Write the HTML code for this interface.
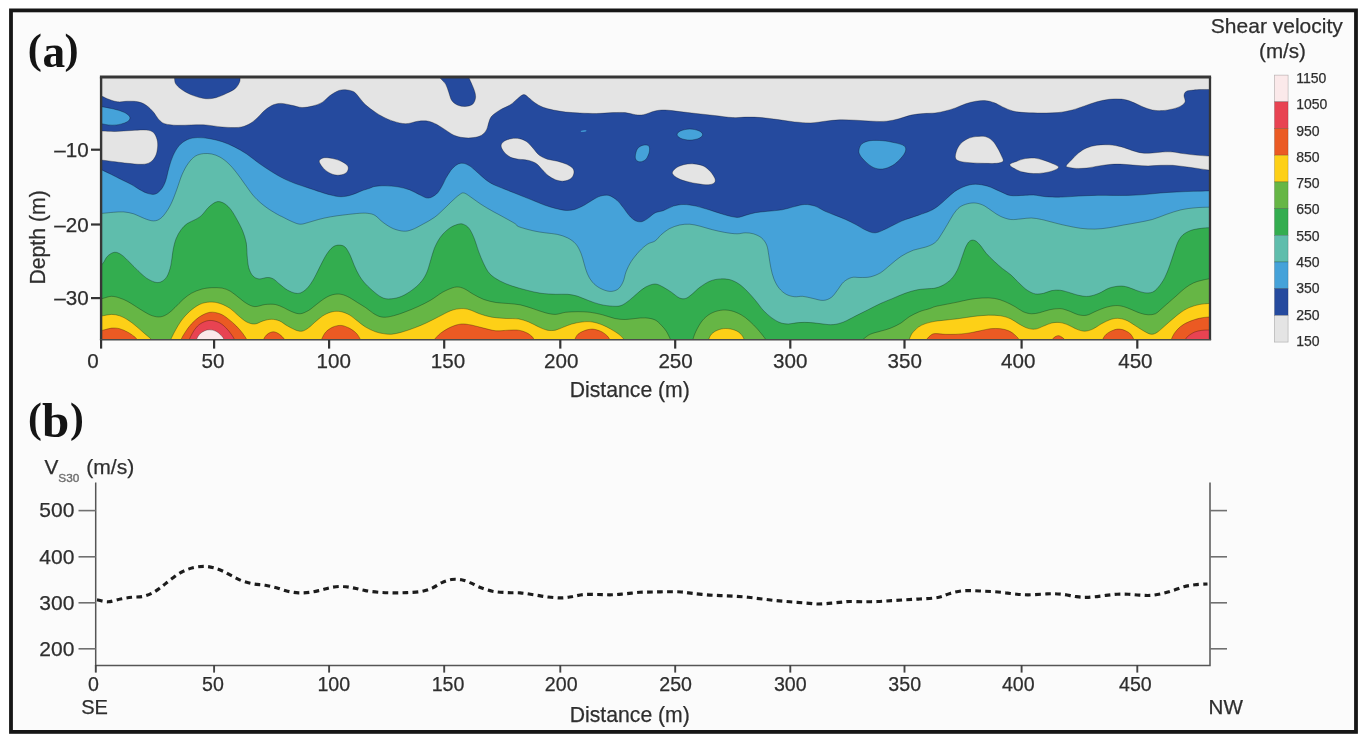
<!DOCTYPE html>
<html lang="en"><head><meta charset="utf-8"><title>Shear velocity profile</title>
<style>
html,body{margin:0;padding:0;background:#fff}
body{width:1366px;height:747px;overflow:hidden;font-family:"Liberation Sans",sans-serif}
svg{display:block}
#fig{filter:blur(.4px)}
text{font-family:"Liberation Sans",sans-serif;fill:#2e2e2e;stroke:#2e2e2e;stroke-width:.25px}
.pl{font-family:"Liberation Serif",serif;font-weight:bold;fill:#141414;stroke:none}
</style></head><body>
<svg width="1366" height="747" viewBox="0 0 1366 747">
<rect x="0" y="0" width="1366" height="747" fill="#fff"/>
<rect x="11" y="10.4" width="1345" height="721.5" fill="#fbfbfb" stroke="#161616" stroke-width="3.8"/>
<g id="fig">
<defs><clipPath id="cp"><rect x="101" y="77" width="1110" height="263"/></clipPath></defs>
<rect x="101" y="77" width="1110" height="263" fill="#e4e4e4"/>
<g clip-path="url(#cp)">
<path d="M97 96.2C98 96.3 101.1 96.2 102.8 96.6C104.5 97.1 104.8 97.8 107.3 98.7C109.8 99.6 114.1 101.4 117.5 101.8C121 102.2 124.4 101.2 127.8 101.2C131.2 101.2 135 101.1 138 101.8C141.1 102.5 143.7 103.5 146.2 105.3C148.8 107 151.4 109.7 153.4 112C155.5 114.3 156.7 117.2 158.5 119.2C160.4 121.1 161.6 122.7 164.7 123.7C167.8 124.7 172.6 125.1 177 125.3C181.4 125.5 186.6 125 191.3 124.9C196.1 124.9 200.6 124.6 205.7 124.9C210.8 125.3 216.6 126.6 222.1 127C227.6 127.4 234 127.8 238.5 127.4C242.9 126.9 245.7 125.9 248.7 124.3C251.8 122.8 254.2 120.6 256.9 118.2C259.7 115.8 262.4 112.2 265.1 110C267.9 107.8 270.6 105.9 273.3 104.8C276.1 103.8 278.5 103.3 281.5 103.4C284.6 103.5 288.4 104.6 291.8 105.3C295.2 105.9 298.6 107.4 302 107.5C305.4 107.6 308.9 106.9 312.3 106.1C315.6 105.2 319.2 104.1 322.1 102.4C325 100.7 326.9 97.8 329.7 95.8C332.5 93.8 336 91.5 338.9 90.5C341.8 89.5 344.6 89.6 347.1 89.9C349.7 90.2 352.2 90.8 354.3 92.1C356.3 93.4 357.5 95.6 359.4 97.7C361.3 99.8 363 102.5 365.6 104.8C368.2 107.2 372.1 110 375 112C377.9 114 380.1 115.4 383.2 116.9C386.3 118.5 389.7 120.1 393.4 121.2C397.2 122.4 401.6 123.7 405.7 123.7C409.8 123.7 414.3 121.7 418 121.2C421.8 120.8 425.2 120.7 428.3 121.2C431.4 121.8 433.8 123 436.5 124.3C439.2 125.7 441.8 127.6 444.7 129.4C447.6 131.3 450.8 133.8 453.9 135.2C457 136.5 459.9 137.2 463.1 137.6C466.4 138.1 470.3 138.1 473.4 137.6C476.5 137.2 479.4 136.5 481.6 135.2C483.8 133.8 485.5 131.6 486.7 129.4C487.9 127.3 487.9 124.5 488.8 122.3C489.6 120 490 118.2 491.8 116.1C493.7 114.1 497 111.8 500 110C503.1 108.1 507.4 106.7 510.3 104.8C513.2 103 515.2 100.4 517.5 98.7C519.7 97 521.7 94.8 523.6 94.6C525.5 94.4 526.9 96.3 528.7 97.7C530.6 99 532.5 101.2 534.9 102.8C537.3 104.4 540 106.1 543.1 107.3C546.2 108.5 549.6 109.2 553.3 110C557.1 110.8 561.2 111.5 565.6 112C570.1 112.5 574.9 112.8 580 113C585.1 113.3 590.9 113.5 596.4 113.5C601.8 113.4 608 112.8 612.8 112.6C617.6 112.5 621.3 112.3 625.1 112.6C628.8 113 632.2 114.3 635.3 114.7C638.4 115 640.2 115.3 643.5 114.7C646.8 114.1 651.4 111.8 655 111C658.6 110.2 661.1 109.9 665.2 110C669.3 110.1 674.5 111 679.6 111.6C684.7 112.2 690.2 112.8 696 113.5C701.8 114.1 708.3 114.8 714.4 115.5C720.6 116.2 727.4 117.3 732.9 117.6C738.4 117.8 742.5 117.1 747.2 117.1C752 117.1 756.5 117.1 761.6 117.6C766.7 118 772.5 118.9 778 119.6C783.5 120.3 788.9 121.3 794.4 121.9C799.9 122.4 805.7 123 810.8 122.9C815.9 122.8 820.3 121.8 825.1 121.2C829.9 120.7 834.4 120 839.5 119.8C844.6 119.6 850.4 120 855.9 120.2C861.3 120.5 867.2 121.1 872.3 121.2C877.4 121.4 882.2 121.7 886.6 121.2C891.1 120.8 894.8 119.8 898.9 118.8C903 117.8 907.1 116 911.2 115.1C915.3 114.2 919.6 113.8 923.5 113.5C927.5 113.1 931.4 113.5 935 113C938.6 112.6 941.8 111.8 945.2 111C948.7 110.1 952.1 109.1 955.5 107.9C958.9 106.7 962.3 104.9 965.7 103.8C969.2 102.7 972.6 101.7 976 101.2C979.4 100.6 983.2 100.5 986.2 100.7C989.3 101 991.7 101.8 994.4 102.8C997.2 103.8 999.6 105.5 1002.6 106.9C1005.7 108.3 1009.1 110 1012.9 111C1016.6 112 1020.4 112.3 1025.2 112.6C1030 113 1036.1 113 1041.6 113C1047.1 113 1052.9 113.1 1058 112.6C1063.1 112.1 1067.9 111.1 1072.3 110C1076.8 108.8 1080.5 107.2 1084.6 105.9C1088.7 104.5 1092.8 102.9 1096.9 101.8C1101 100.7 1105.1 99.8 1109.2 99.3C1113.3 98.9 1117.8 98.7 1121.5 99.1C1125.3 99.5 1128.4 100.5 1131.8 101.8C1135.2 103 1138.6 105.1 1142 106.5C1145.4 107.9 1148.9 109.3 1152.3 110C1155.7 110.7 1159.1 110.8 1162.5 110.6C1165.9 110.4 1169.7 109.7 1172.8 108.9C1175.8 108.2 1178.9 107.1 1181 105.9C1183 104.7 1184.6 103.5 1185.1 101.8C1185.6 100.1 1183.9 97.3 1184 95.6C1184.2 93.9 1184.6 92.4 1186.1 91.5C1187.6 90.6 1190.7 90.4 1193.3 90.1C1195.8 89.7 1197.9 89.6 1201.5 89.5C1205.1 89.4 1212.7 89.5 1215 89.5L1215 346 L97 346Z" fill="#254a9e" stroke="#000" stroke-opacity=".32" stroke-width=".9"/>
<path d="M174.1 74.1C174.2 74.9 174.2 76.9 174.5 78.6C174.8 80.3 174.5 82.4 176 84.3C177.4 86.3 180.2 88.6 183.1 90.5C186 92.4 189.6 94.3 193.4 95.6C197.1 97 201.9 98.4 205.7 98.7C209.4 99 212.5 98.5 215.9 97.7C219.4 96.8 222.9 95.1 226.2 93.6C229.4 92 233.2 90.3 235.4 88.4C237.6 86.6 238.7 83.9 239.5 82.3C240.3 80.7 240 80 240.1 78.6C240.3 77.2 240.3 74.9 240.3 74.1Z" fill="#254a9e" stroke="#000" stroke-opacity=".32" stroke-width=".9"/>
<path d="M437.5 74.1C438 74.9 439.2 76.9 440.6 78.6C442 80.3 444.4 82 445.7 84.3C447.1 86.7 447.8 89.8 448.8 92.5C449.8 95.3 450.3 98.6 451.9 100.7C453.4 102.9 455.8 104.3 458 105.3C460.2 106.2 462.8 106.6 465.2 106.5C467.6 106.3 470.7 105.7 472.4 104.4C474.1 103.1 475 100.7 475.4 98.7C475.9 96.7 475.5 94.8 475 92.5C474.5 90.3 473.3 87.7 472.4 85.4C471.4 83.1 470.1 80.5 469.3 78.6C468.5 76.7 467.9 74.9 467.7 74.1Z" fill="#254a9e" stroke="#000" stroke-opacity=".32" stroke-width=".9"/>
<path d="M97 131.1C98 131.1 99.7 131 102.8 131.1C105.9 131.2 110.6 131.6 115.5 131.5C120.3 131.4 126.8 130.7 131.9 130.5C137 130.2 142.7 129.7 146.2 130.1C149.8 130.4 151.6 130.9 153.4 132.5C155.2 134.1 156.4 137.1 157.1 139.7C157.8 142.3 157.8 145.2 157.5 147.9C157.2 150.6 156.7 153.7 155.5 156.1C154.3 158.5 152.6 160.9 150.3 162.2C148.1 163.6 145.9 164.1 142.1 164.3C138.4 164.5 132.2 163.7 127.8 163.3C123.4 162.9 119.7 162.3 115.5 161.8C111.3 161.3 105.9 160.5 102.8 160.2C99.7 159.8 98 159.8 97 159.8Z" fill="#e4e4e4" stroke="#000" stroke-opacity=".32" stroke-width=".9"/>
<path d="M319.5 160.2C320.1 159.1 322.4 158 324.6 157.7C326.8 157.5 330 158 332.8 158.6C335.5 159.1 338.6 160.1 341 161.2C343.4 162.3 345.9 163.9 347.1 165.3C348.3 166.7 348.5 168 348.1 169.4C347.8 170.8 346.8 172.6 345.1 173.5C343.4 174.5 340.3 175.2 337.9 175.2C335.5 175.2 332.9 174.5 330.7 173.5C328.5 172.6 326.3 171 324.6 169.4C322.9 167.9 321.3 165.8 320.5 164.3C319.6 162.8 318.8 161.3 319.5 160.2Z" fill="#e4e4e4" stroke="#000" stroke-opacity=".32" stroke-width=".9"/>
<path d="M501.1 145.8C501.1 144.1 502.4 142.5 504.1 141.3C505.8 140.1 508.7 139.1 511.3 138.7C513.9 138.2 516.9 138.2 519.5 138.7C522.1 139.2 524.5 140.2 526.7 141.7C528.9 143.3 530.8 145.7 532.8 147.9C534.9 150.1 536.6 153.2 539 155.1C541.4 156.9 544.1 158.1 547.2 159.2C550.3 160.2 554.2 160.4 557.4 161.2C560.7 162.1 564.1 163.1 566.7 164.3C569.2 165.5 571.6 166.9 572.8 168.4C574 169.9 574.2 171.8 573.8 173.5C573.5 175.2 572.5 177.4 570.8 178.6C569 179.9 566.1 180.9 563.6 181.1C561 181.3 557.9 180.6 555.4 179.7C552.8 178.7 550.4 177.3 548.2 175.6C546 173.9 544.1 171.5 542.1 169.4C540 167.4 538.3 164.8 535.9 163.3C533.5 161.7 530.6 160.9 527.7 160.2C524.8 159.5 521.4 159.7 518.5 159.2C515.6 158.7 512.7 158.3 510.3 157.1C507.9 155.9 505.7 153.9 504.1 152C502.6 150.1 501.1 147.6 501.1 145.8Z" fill="#e4e4e4" stroke="#000" stroke-opacity=".32" stroke-width=".9"/>
<path d="M672.4 173.5C671.9 171.8 673.6 169.9 675.5 168.4C677.4 166.9 680.6 165.5 683.7 164.7C686.8 163.9 690.7 163.7 693.9 163.9C697.2 164.1 700.4 164.7 703.2 165.9C705.9 167.2 708.4 169.3 710.3 171.5C712.3 173.6 714.2 176.8 714.9 178.6C715.5 180.5 715.5 181.7 714.4 182.7C713.4 183.8 711 184.6 708.3 184.8C705.6 185 701.5 184.3 698 183.8C694.6 183.3 691 182.6 687.8 181.7C684.6 180.9 681.1 180 678.6 178.6C676 177.3 672.9 175.2 672.4 173.5Z" fill="#e4e4e4" stroke="#000" stroke-opacity=".32" stroke-width=".9"/>
<path d="M955.5 158.1C955 156.4 955.7 153.4 956.5 151C957.4 148.6 958.7 145.8 960.6 143.8C962.5 141.7 965.2 139.9 967.8 138.7C970.4 137.5 973.1 137 976 136.6C978.9 136.3 982.5 135.9 985.2 136.6C988 137.3 990.3 138.8 992.4 140.7C994.4 142.6 996 145.3 997.5 147.9C999.1 150.5 1000.7 153.9 1001.6 156.1C1002.5 158.3 1003.9 160 1003.1 161.2C1002.2 162.4 999.6 162.9 996.5 163.3C993.4 163.6 988.6 163.4 984.2 163.3C979.8 163.2 973.9 163 969.8 162.7C965.7 162.3 962 162 959.6 161.2C957.2 160.5 956 159.8 955.5 158.1Z" fill="#e4e4e4" stroke="#000" stroke-opacity=".32" stroke-width=".9"/>
<path d="M1009.8 164.7C1010 163.3 1014.4 162.2 1017 161.2C1019.6 160.2 1022.3 159.1 1025.2 158.6C1028.1 158 1031.3 157.9 1034.4 158.1C1037.5 158.4 1040.7 159.3 1043.6 160.2C1046.5 161 1049.3 162.1 1051.8 163.3C1054.3 164.4 1058.3 165.8 1058.6 167C1058.9 168.2 1056.4 169.4 1053.9 170.4C1051.4 171.4 1047.1 172.4 1043.6 172.9C1040.2 173.4 1036.8 173.7 1033.4 173.5C1030 173.4 1026 172.8 1023.1 172.1C1020.2 171.4 1018.2 170.6 1016 169.4C1013.7 168.2 1009.6 166.1 1009.8 164.7Z" fill="#e4e4e4" stroke="#000" stroke-opacity=".32" stroke-width=".9"/>
<path d="M1066.2 165.9C1066.5 164.7 1069.3 162.3 1071.3 160.2C1073.4 158 1075.9 155.1 1078.5 153C1081 151 1083.6 149.2 1086.7 147.9C1089.8 146.6 1093.2 145.7 1096.9 145.2C1100.7 144.7 1105.1 144.5 1109.2 144.8C1113.3 145.1 1117.8 145.9 1121.5 146.9C1125.3 147.8 1128.4 149.3 1131.8 150.4C1135.2 151.4 1138.6 152.6 1142 153C1145.4 153.5 1148.9 153.2 1152.3 153C1155.7 152.8 1159.1 152.2 1162.5 152C1165.9 151.8 1169.4 151.7 1172.8 152C1176.2 152.3 1179.3 153.1 1183 153.6C1186.8 154.1 1191.1 154.7 1195.3 155.1C1199.6 155.5 1205.4 155.9 1208.6 156.1C1211.9 156.3 1213.9 153.9 1215 156.3C1216.1 158.7 1216.1 167.9 1215 170.2C1213.9 172.5 1211.6 170.3 1208.6 170C1205.7 169.7 1201.3 168.9 1197.4 168.4C1193.4 167.8 1189.2 167.3 1185.1 166.7C1181 166.2 1176.9 165.6 1172.8 165.3C1168.7 165.1 1164.6 165.2 1160.5 165.3C1156.4 165.4 1152.3 165.9 1148.2 165.9C1144.1 165.9 1140 165.6 1135.9 165.3C1131.8 165 1127.7 164.5 1123.6 164.3C1119.5 164.1 1115.4 164 1111.3 164.3C1107.2 164.6 1103.1 165.3 1099 165.9C1094.9 166.5 1090.4 167.6 1086.7 168C1082.9 168.4 1079.3 168.5 1076.4 168.4C1073.5 168.3 1071 167.8 1069.3 167.4C1067.6 167 1065.8 167.1 1066.2 165.9Z" fill="#e4e4e4" stroke="#000" stroke-opacity=".32" stroke-width=".9"/>
<path d="M97 168.4C98 168.7 100.4 169.4 102.8 170.4C105.2 171.5 108.3 173 111.4 174.5C114.5 176.1 118.2 178 121.6 179.7C125.1 181.4 128.8 183.1 131.9 184.8C135 186.5 137.4 188.4 140.1 189.9C142.8 191.4 145.7 192.9 148.3 193.6C150.9 194.3 153.2 194.8 155.5 194C157.7 193.2 159.9 191.1 161.6 188.9C163.3 186.7 164.5 184.1 165.7 180.7C166.9 177.3 167.6 172.5 168.8 168.4C170 164.3 171.2 159.8 172.9 156.1C174.6 152.3 176.6 148.6 179 145.8C181.4 143.1 184.2 141.1 187.2 139.7C190.3 138.3 193.7 137.8 197.5 137.6C201.2 137.5 205.7 138 209.8 138.7C213.9 139.4 218 140.4 222.1 141.7C226.2 143.1 230.3 144.8 234.4 146.9C238.5 148.9 242.6 151.3 246.7 154C250.8 156.8 254.9 160.4 259 163.3C263.1 166.2 267.2 168.9 271.3 171.5C275.4 174 279.5 176.6 283.6 178.6C287.7 180.7 291.8 182.2 295.9 183.8C300 185.3 304.1 186.5 308.2 187.9C312.3 189.2 316.7 190.8 320.5 192C324.2 193.2 327.3 194.3 330.7 195C334.1 195.8 337.6 196.7 341 196.7C344.4 196.7 347.8 196 351.2 195C354.6 194.1 358.4 192.1 361.5 190.9C364.5 189.8 367.4 189 369.7 188.3C371.9 187.5 372.4 186.8 375 186.4C377.6 186 381.5 185.7 385.2 185.8C389 185.9 393.4 186.2 397.5 186.8C401.6 187.5 406.1 188.5 409.8 189.9C413.6 191.3 417 193.7 420.1 195C423.2 196.4 425.6 198.3 428.3 198.1C431 197.9 434.3 195.9 436.5 194C438.7 192.1 440.1 189.4 441.6 186.8C443.2 184.3 444.2 181.4 445.7 178.6C447.3 175.9 449 172.8 450.8 170.4C452.7 168.1 454.9 165.9 457 164.7C459 163.5 460.9 163 463.1 163.3C465.4 163.5 467.9 164.8 470.3 166.3C472.7 167.9 474.9 170.3 477.5 172.5C480.1 174.7 483 177.6 485.7 179.7C488.4 181.7 490.8 183.3 493.9 184.8C497 186.3 500.7 187.5 504.1 188.9C507.6 190.3 511 191.6 514.4 193C517.8 194.4 521.2 195.7 524.6 197.1C528.1 198.5 531.5 199.8 534.9 201.2C538.3 202.6 541.7 204.1 545.1 205.3C548.5 206.5 552 207.5 555.4 208.4C558.8 209.2 562.4 210.2 565.6 210.4C568.9 210.6 571.8 210.2 574.9 209.4C577.9 208.5 581.2 206.8 584.1 205.3C587 203.7 589.5 201.7 592.3 200.2C595 198.6 597.7 196.8 600.5 196.1C603.2 195.3 605.9 194.8 608.7 195.4C611.4 196.1 614.5 198.2 616.9 200.2C619.3 202.1 621 204.8 623 207.3C625.1 209.9 627.1 213.3 629.2 215.5C631.2 217.8 633.3 219.6 635.3 220.7C637.4 221.7 639.4 222 641.5 221.7C643.5 221.3 645.4 220.1 647.6 218.6C649.9 217.1 652.4 214.2 655 212.9C657.6 211.5 660.1 211.8 663.2 210.7C666.3 209.5 670 207.2 673.4 206.1C676.9 205.1 679.9 204.5 683.7 204.5C687.5 204.5 691.6 205.2 696 206.1C700.4 207.1 705.6 208.8 710.3 210.2C715.1 211.7 720.3 213.6 724.7 214.8C729.1 216 733.6 217.3 737 217.4C740.4 217.5 742.1 216.2 745.2 215.4C748.3 214.6 751.7 213.4 755.4 212.7C759.2 212 763.3 211.8 767.7 211.3C772.2 210.8 777.6 210.6 782.1 209.8C786.5 209.1 790.6 207.4 794.4 206.6C798.1 205.7 801.2 204.6 804.6 204.5C808.1 204.4 811.5 205 814.9 206.1C818.3 207.3 821.7 209.7 825.1 211.3C828.5 212.8 832 214 835.4 215.4C838.8 216.7 842.2 217.9 845.6 219.5C849 221 852.5 222.8 855.9 224.6C859.3 226.4 862.9 229 866.1 230.3C869.4 231.7 871.8 233.1 875.4 232.8C878.9 232.5 882.9 230.2 887.2 228.3C891.6 226.3 896.5 223.2 901.6 221.1C906.7 218.9 913.2 217.1 918 215.4C922.8 213.6 926.9 212.4 930.3 210.8C933.7 209.2 935.8 207.8 938.5 205.7C941.2 203.7 944 200.9 946.7 198.5C949.4 196.2 951.8 193.4 954.9 191.4C958 189.3 961.7 187.4 965.1 186.2C968.5 185 971.6 184.2 975.4 184.2C979.1 184.2 983.6 185 987.7 186.2C991.8 187.4 996.2 189.8 1000 191.4C1003.7 192.9 1006.4 194.8 1010.2 195.5C1014.1 196.1 1019.3 195.5 1023.1 195.4C1027 195.4 1029.6 194.8 1033.4 195C1037.1 195.2 1040.9 196.3 1045.7 196.7C1050.5 197 1056.6 197.2 1062.1 197.1C1067.6 197 1073 196.3 1078.5 196.1C1084 195.8 1089.4 195.5 1094.9 195.4C1100.3 195.3 1105.8 195.4 1111.3 195.4C1116.7 195.4 1122.2 195.6 1127.7 195.4C1133.1 195.3 1138.6 195 1144.1 194.6C1149.5 194.2 1155 193.4 1160.5 193C1165.9 192.5 1171.4 192.2 1176.9 192C1182.3 191.7 1188 191.5 1193.3 191.3C1198.6 191.2 1205 191 1208.6 190.9C1212.3 190.9 1213.9 190.9 1215 190.9L1215 346 L97 346Z" fill="#45a2d9" stroke="#000" stroke-opacity=".32" stroke-width=".9"/>
<path d="M97 106.5C98 106.6 100.4 106.6 102.8 106.9C105.2 107.2 108.4 107.9 111.4 108.5C114.4 109.2 118.1 110.1 120.6 111C123.2 111.9 125.2 112.8 126.8 113.9C128.3 114.9 129.5 116.1 129.8 117.1C130.2 118.2 129.9 119.3 129 120.2C128.2 121.2 126.8 122.1 124.7 122.9C122.6 123.7 119.3 124.6 116.5 124.9C113.8 125.3 110.6 125.1 108.3 124.9C106 124.8 104.7 124.1 102.8 123.9C100.9 123.7 98 123.6 97 123.5Z" fill="#45a2d9" stroke="#000" stroke-opacity=".32" stroke-width=".9"/>
<path d="M635.3 156.1C635.5 154.2 636.2 150.7 637.4 148.9C638.6 147.1 640.6 145.9 642.5 145.4C644.4 144.9 647.5 144.7 648.6 145.8C649.8 146.9 649.7 149.8 649.3 152C648.8 154.2 647.4 157.5 646 159.2C644.5 160.8 642.1 161.7 640.4 161.8C638.8 162 637.2 161.1 636.3 160.2C635.5 159.2 635.2 158 635.3 156.1Z" fill="#45a2d9" stroke="#000" stroke-opacity=".32" stroke-width=".9"/>
<path d="M677.1 134.6C677.1 133.3 678.5 131.8 680.6 130.9C682.7 130 686.8 129 689.8 129C692.9 129 697 130 699.1 130.9C701.2 131.8 702.6 133.3 702.6 134.6C702.6 135.8 701.2 137.3 699.1 138.3C697 139.2 692.9 140.1 689.8 140.1C686.8 140.1 682.7 139.2 680.6 138.3C678.5 137.3 677.1 135.8 677.1 134.6Z" fill="#45a2d9" stroke="#000" stroke-opacity=".32" stroke-width=".9"/>
<path d="M859 149.9C859.3 148.1 860.1 145.3 862 143.8C863.9 142.3 866.8 141.2 870.2 140.7C873.6 140.2 878.4 140.4 882.5 140.7C886.6 141.1 891.2 141.9 894.8 142.8C898.4 143.6 902.3 144.5 904 145.8C905.8 147.2 906 148.9 905.5 151C905 153 903.1 155.7 901 158.1C898.9 160.5 895.8 163.5 892.8 165.3C889.7 167.1 885.8 168.7 882.5 169C879.3 169.3 876.2 168.7 873.3 167.4C870.4 166.1 867.3 163.3 865.1 161.2C862.9 159.2 861 156.9 860 155.1C859 153.2 858.6 151.8 859 149.9Z" fill="#45a2d9" stroke="#000" stroke-opacity=".32" stroke-width=".9"/>
<ellipse cx="583.6" cy="131.1" rx="3" ry="0.9" transform="rotate(-8 583.6 131.1)" fill="#45a2d9" opacity=".8"/>
<path d="M97 213.5C98 213.5 100.1 213.5 102.8 213.3C105.5 213.1 110 212.5 113.4 212.3C116.9 212.1 120.3 211.6 123.7 211.9C127.1 212.2 130.5 212.8 133.9 213.9C137.4 215 140.9 217.3 144.2 218.4C147.4 219.6 150.7 220.9 153.4 220.9C156.2 220.9 158.4 220.1 160.6 218.4C162.8 216.8 164.9 214 166.7 211.3C168.6 208.5 170.2 205.8 171.9 202C173.6 198.3 175.3 193.5 177 188.9C178.7 184.3 180.2 178.8 182.1 174.5C184 170.3 186 166.3 188.3 163.3C190.5 160.2 192.9 157.7 195.4 156.1C198 154.5 200.9 154 203.6 153.6C206.4 153.3 209.1 153.5 211.8 154C214.6 154.6 217.3 155.6 220 157.1C222.8 158.7 225.5 160.7 228.2 163.3C231 165.8 233.7 169.1 236.4 172.5C239.2 175.9 241.9 180 244.6 183.8C247.4 187.5 250.1 191.8 252.8 195C255.6 198.3 258.3 200.8 261 203.2C263.8 205.6 266.2 207.3 269.2 209.4C272.3 211.4 277.4 214.4 279.5 215.5C281.5 216.7 279.5 215.4 281.5 216.4C283.6 217.4 288.7 220.2 291.8 221.5C294.9 222.8 297.2 224 300 224.2C302.7 224.4 305.1 223.3 308.2 222.5C311.3 221.8 314.7 220.4 318.4 219.5C322.2 218.5 326.3 217.6 330.7 216.8C335.2 216 340.3 215.3 345.1 214.8C349.9 214.2 355.7 213.6 359.4 213.3C363.2 213.1 365 213 367.6 213.3C370.2 213.7 372.4 213.8 375 215.4C377.6 216.9 380.1 220.3 383.2 222.5C386.3 224.8 390 227.3 393.4 228.7C396.9 230.1 400.6 231 403.7 231.2C406.8 231.3 408.8 230.8 411.9 229.7C415 228.6 418.4 226.6 422.1 224.6C425.9 222.5 430.7 220.2 434.4 217.4C438.2 214.7 441.8 210.9 444.7 208.2C447.6 205.5 449.5 203.4 451.9 201.2C454.3 199 457 196.4 459 195C461.1 193.7 461.9 192.4 464.2 193C466.5 193.6 470 196.7 472.8 198.5C475.6 200.4 477.9 202.3 481 204.3C484 206.3 487.8 208.5 491.2 210.4C494.6 212.4 497.5 213.8 501.5 216C505.4 218.2 512.2 221.8 515 223.6C517.8 225.3 515.5 225.4 518.5 226.6C521.5 227.8 528.4 229.7 532.8 230.7C537.3 231.8 541 232.2 545.1 232.8C549.2 233.4 553.7 233.6 557.4 234.4C561.2 235.3 564.6 236.3 567.7 237.9C570.8 239.5 573.7 241.5 575.9 244.1C578.1 246.6 579.6 250 581 253.3C582.4 256.5 583 260.1 584.1 263.5C585.1 267 586 270.7 587.4 273.8C588.7 276.9 590.2 279.6 592.3 282C594.4 284.4 597 286.6 599.9 288.1C602.8 289.7 606.7 291.2 609.7 291.4C612.7 291.6 615.7 290.7 617.9 289.2C620.1 287.6 621.7 284.9 623 282C624.4 279.1 624.7 275.2 626.1 271.7C627.5 268.3 629 264.9 631.2 261.5C633.4 258.1 636.7 254.1 639.4 251.2C642.2 248.3 645 245.8 647.6 244.1C650.2 242.4 652.7 242.5 655 241C657.3 239.5 658.8 236.9 661.1 234.8C663.5 232.8 666.3 230.3 669.3 228.7C672.4 227.1 676.2 225.8 679.6 225C683 224.3 686.4 224 689.8 224.2C693.3 224.4 696.3 225.3 700.1 226.2C703.9 227.2 708.3 228.7 712.4 229.7C716.5 230.7 720.6 231.7 724.7 232.4C728.8 233.1 733.6 233.8 737 233.8C740.4 233.9 742.5 232.8 745.2 232.8C747.9 232.8 750.7 233 753.4 233.8C756.1 234.7 759.4 236 761.6 237.9C763.8 239.8 765.5 242.2 766.7 245.1C767.9 248 768.1 251.6 768.8 255.3C769.4 259.1 770 263.7 770.8 267.6C771.7 271.6 772.5 275.5 773.9 278.9C775.3 282.3 777 285.6 779 288.1C781.1 290.7 783.6 292.9 786.2 294.3C788.7 295.7 791.7 296.4 794.4 296.7C797.1 297.1 799.5 296.1 802.6 296.3C805.7 296.6 809.4 297.7 812.8 298.4C816.2 299.1 820 300.6 823.1 300.4C826.2 300.3 828.9 299.1 831.3 297.4C833.7 295.7 835.4 292.8 837.4 290.2C839.5 287.6 841.2 284.1 843.6 282C846 279.9 849 278.2 851.8 277.5C854.5 276.7 856.9 277.6 860 277.5C863.1 277.4 866.8 277.7 870.2 276.9C873.6 276.1 877.1 274.8 880.5 272.8C883.9 270.7 887.3 267.3 890.7 264.6C894.1 261.8 897.2 258.8 901 256.4C904.7 254 909.2 251.8 913.3 250.2C917.4 248.7 921.9 248.4 925.6 247.1C929.2 245.9 932.4 244.7 935 242.6C937.6 240.6 939.1 237.9 941.1 234.8C943.2 231.8 945.2 228 947.3 224.6C949.3 221.2 951.4 217.3 953.4 214.3C955.5 211.4 957.2 209 959.6 207.2C962 205.4 965.1 204.4 967.8 203.7C970.5 203 973.3 202.7 976 203.1C978.7 203.4 981.5 204.4 984.2 205.7C986.9 207.1 989.7 209.5 992.4 211.3C995.1 213.1 997.5 215 1000.6 216.4C1003.7 217.8 1007.4 219.1 1010.8 219.5C1014.3 219.9 1017.7 219.1 1021.1 218.9C1024.5 218.6 1027.9 217.9 1031.3 218C1034.8 218.1 1038.2 218.8 1041.6 219.5C1045 220.2 1047.7 221.1 1051.8 222.1C1055.9 223.2 1061.4 224.6 1066.2 225.6C1071 226.6 1075.8 227.7 1080.5 228.3C1085.3 228.9 1090.1 229.2 1094.9 229.1C1099.7 229 1104.4 228.4 1109.2 227.7C1114 227 1118.8 225.9 1123.6 225C1128.4 224.2 1133.1 223.5 1137.9 222.5C1142.7 221.6 1147.5 220.8 1152.3 219.5C1157.1 218.1 1161.8 216 1166.6 214.3C1171.4 212.7 1176.2 210.9 1181 209.8C1185.8 208.7 1190.7 208.2 1195.3 207.8C1199.9 207.3 1205.4 207.3 1208.6 207.2C1211.9 207.1 1213.9 207.2 1215 207.2L1215 346 L97 346Z" fill="#5fbdac" stroke="#000" stroke-opacity=".32" stroke-width=".9"/>
<path d="M97 267.6C98 267 101.1 265.4 102.8 263.5C104.5 261.7 105.4 258.2 107.3 256.4C109.2 254.5 112.1 252.5 114.5 252.3C116.9 252 119.1 253.2 121.6 254.9C124.2 256.6 127.1 259.9 129.8 262.5C132.6 265.1 135.3 268.2 138 270.7C140.8 273.3 143.5 276 146.2 277.9C149 279.8 152.1 281.3 154.4 282C156.8 282.7 158.5 282.8 160.6 282C162.6 281.1 165 279.6 166.7 276.9C168.5 274.1 169.8 269.9 170.8 265.6C171.9 261.3 172 255.7 172.9 251.2C173.7 246.8 174.6 242.5 176 238.9C177.3 235.4 179.2 232.3 181.1 229.7C183 227.2 184.8 225.3 187.2 223.6C189.6 221.9 193 220.8 195.4 219.5C197.8 218.1 199.5 217.3 201.6 215.4C203.6 213.5 205.7 210.2 207.7 208.2C209.8 206.1 212 204.2 213.9 203.1C215.8 202 217.1 201.5 219 201.6C220.9 201.8 223.1 202.7 225.2 204.1C227.2 205.5 229.3 207.5 231.3 210.2C233.4 213 235.6 217.1 237.5 220.5C239.3 223.9 241.1 227 242.6 230.7C244.1 234.5 245.5 238.9 246.3 243C247 247.1 246.7 251.2 247.1 255.3C247.5 259.4 247.8 264.2 248.7 267.6C249.7 271.1 251.1 274 252.8 275.8C254.5 277.7 256.6 278.6 259 278.9C261.4 279.2 264.8 277.5 267.2 277.5C269.6 277.5 271.3 277.8 273.3 278.9C275.4 280 277.1 282.2 279.5 284C281.9 285.9 284.9 288.7 287.7 290.2C290.4 291.7 293.5 292.9 295.9 293.3C298.3 293.6 300 293.3 302 292.2C304.1 291.2 306.1 289.5 308.2 287.1C310.2 284.7 312.3 281.5 314.3 277.9C316.4 274.3 318.4 269.5 320.5 265.6C322.5 261.7 324.6 257.4 326.6 254.3C328.7 251.2 330.7 248.7 332.8 247.1C334.8 245.6 336.9 245.1 338.9 245.1C341 245.1 343.2 245.4 345.1 247.1C347 248.9 348.7 252.3 350.2 255.3C351.7 258.4 352.8 262.2 354.3 265.6C355.8 269 357.5 272.8 359.4 275.8C361.3 278.9 363 281.2 365.6 284C368.2 286.8 372.1 290.3 375 292.7C377.9 295 380.5 297 383.2 298C385.9 299 388.3 299.1 391.4 298.8C394.5 298.5 398.2 297.8 401.6 296.3C405.1 294.9 408.8 292.4 411.9 290.2C415 288 417.7 285.7 420.1 283C422.5 280.3 424.5 277.4 426.2 273.8C428 270.2 429 265.8 430.3 261.5C431.7 257.2 432.7 252.3 434.4 248.2C436.2 244.1 438.2 240.1 440.6 236.9C443 233.7 446.1 230.7 448.8 228.7C451.5 226.6 454.6 225.3 457 224.6C459.4 223.8 461.1 223.5 463.1 224.2C465.2 224.9 467.4 226.2 469.3 228.7C471.2 231.2 472.9 235.2 474.4 238.9C476 242.7 477 247.1 478.5 251.2C480.1 255.3 481.8 259.8 483.6 263.5C485.5 267.3 487.1 270.9 489.8 273.8C492.5 276.7 496.3 278.9 500 281C503.8 283 507.9 284.6 512.3 286.1C516.8 287.6 521.9 289 526.7 290.2C531.5 291.4 536.2 292.6 541 293.3C545.8 293.9 550.9 294.1 555.4 294.3C559.8 294.5 563.9 293.9 567.7 294.3C571.4 294.6 574.5 295.3 577.9 296.3C581.3 297.4 584.4 299.1 588.2 300.4C591.9 301.8 596.4 303.6 600.5 304.5C604.6 305.5 609.4 306 612.8 306.2C616.2 306.3 618.2 306.5 621 305.6C623.7 304.6 626.4 302.5 629.2 300.4C631.9 298.4 634.6 295.5 637.4 293.3C640.1 291 642.6 288.7 645.6 287.1C648.5 285.6 652.1 284 655 284C657.9 284 660.5 285.7 663.2 287.1C665.9 288.5 668.7 290.4 671.4 292.2C674.1 294.1 677.2 297 679.6 298C682 299 683.7 299 685.7 298.4C687.8 297.8 689.5 296.2 691.9 294.3C694.3 292.4 697 289.3 700.1 287.1C703.2 284.9 706.9 282.3 710.3 281C713.8 279.6 717.2 279.1 720.6 278.9C724 278.7 727.8 279.1 730.8 279.9C733.9 280.8 736.3 282.2 739 284C741.8 285.9 744.5 288.5 747.2 291.2C750 293.9 752.7 297.2 755.4 300.4C758.2 303.7 760.9 307.8 763.6 310.7C766.4 313.6 769.1 315.9 771.8 317.9C774.6 319.8 777.3 321.6 780 322.6C782.8 323.6 785.2 324 788.2 324C791.3 324 794.7 322.8 798.5 322.6C802.2 322.3 806.7 322.3 810.8 322.6C814.9 322.8 819.3 323.7 823.1 324C826.8 324.4 829.9 325 833.3 324.6C836.7 324.3 839.8 323.4 843.6 322C847.3 320.5 851.8 317.9 855.9 315.8C860 313.8 864.1 311.7 868.2 309.7C872.3 307.6 876.4 305.4 880.5 303.5C884.6 301.6 888.7 300.1 892.8 298.4C896.9 296.7 901 294.7 905.1 293.3C909.2 291.8 913.3 290.6 917.4 289.8C921.5 289 926.7 288.8 929.7 288.6C932.6 288.3 932.7 288.7 935 288.1C937.3 287.6 940.5 286.6 943.2 285.1C945.9 283.5 949 281.5 951.4 278.9C953.8 276.4 955.8 273.1 957.5 269.7C959.3 266.3 960.3 262.2 961.6 258.4C963 254.7 964.4 250 965.7 247.1C967.1 244.2 968.3 242.1 969.8 241C971.4 239.9 973.3 239.9 975 240.6C976.7 241.3 978.2 243 980.1 245.1C982 247.2 983.9 250.6 986.2 253.3C988.6 256 991.7 258.9 994.4 261.5C997.2 264.1 999.9 266.4 1002.6 268.7C1005.4 270.9 1008.1 272.4 1010.8 274.8C1013.6 277.2 1016.3 280.5 1019 283C1021.8 285.6 1024.5 288.4 1027.2 290.2C1030 292 1032.7 293.4 1035.4 293.9C1038.2 294.4 1040.9 293.8 1043.6 293.3C1046.4 292.7 1049.1 291.1 1051.8 290.6C1054.6 290.1 1057.3 289.9 1060 290.2C1062.8 290.5 1065.2 291.4 1068.2 292.2C1071.3 293.1 1075.1 294.6 1078.5 295.3C1081.9 296 1085.3 296.7 1088.7 296.3C1092.1 296 1095.6 294.6 1099 293.3C1102.4 291.9 1105.8 289.3 1109.2 288.1C1112.6 286.9 1116.4 286.3 1119.5 286.1C1122.6 285.9 1124.9 286.4 1127.7 287.1C1130.4 287.8 1133.1 289.3 1135.9 290.2C1138.6 291.1 1141.3 292.3 1144.1 292.7C1146.8 293 1149.9 293.2 1152.3 292.2C1154.7 291.3 1156.4 289.5 1158.4 287.1C1160.5 284.7 1162.7 281.5 1164.6 277.9C1166.5 274.3 1168.2 269.7 1169.7 265.6C1171.2 261.5 1172.4 257.2 1173.8 253.3C1175.2 249.4 1176.4 245.1 1177.9 242C1179.4 238.9 1180.8 236.8 1183 234.8C1185.2 232.9 1188.1 231.4 1191.2 230.3C1194.3 229.2 1198.6 228.7 1201.5 228.3C1204.4 227.8 1206.4 227.8 1208.6 227.7C1210.9 227.6 1213.9 227.7 1215 227.7L1215 346 L97 346Z" fill="#33ad4f" stroke="#000" stroke-opacity=".32" stroke-width=".9"/>
<path d="M97 299.4C98 299.2 100.4 298.9 102.8 298.4C105.2 297.9 108.6 296.4 111.4 296.3C114.2 296.3 116.9 297.1 119.6 298C122.3 298.8 125.1 300 127.8 301.5C130.5 302.9 133.3 304.9 136 306.6C138.7 308.3 141.5 310.2 144.2 311.7C146.9 313.3 149.7 315 152.4 315.8C155.1 316.7 158 317.2 160.6 316.8C163.2 316.5 165.4 315.3 167.8 313.8C170.2 312.2 172.4 310 174.9 307.6C177.5 305.2 180.4 301.8 183.1 299.4C185.9 297 188.3 295 191.3 293.3C194.4 291.6 198.2 290.1 201.6 289.2C205 288.2 208.4 287.9 211.8 287.7C215.3 287.6 219 287.6 222.1 288.1C225.2 288.7 227.6 289.7 230.3 291.2C233 292.8 235.8 295.3 238.5 297.4C241.2 299.4 244 302 246.7 303.5C249.4 305.1 251.8 306.4 254.9 306.6C258 306.8 261.7 304.9 265.1 304.5C268.5 304.2 272.3 304 275.4 304.5C278.5 305.1 280.8 306.4 283.6 307.6C286.3 308.8 289 310.7 291.8 311.7C294.5 312.7 297.2 313.9 300 313.8C302.7 313.6 305.4 312.2 308.2 310.7C310.9 309.2 313.6 306.6 316.4 304.5C319.1 302.5 321.8 300 324.6 298.4C327.3 296.7 330 295.4 332.8 294.7C335.5 294 338.2 293.8 341 294.3C343.7 294.7 346.4 296 349.2 297.4C351.9 298.7 354.6 300.8 357.4 302.5C360.1 304.2 362.6 305.6 365.6 307.6C368.5 309.6 372.1 312.8 375 314.4C377.9 316 380.1 317 383.2 317.2C386.3 317.5 389.7 316.7 393.4 315.8C397.2 314.9 401.6 313.3 405.7 311.7C409.8 310.2 413.9 308.5 418 306.6C422.1 304.7 426.2 302.8 430.3 300.4C434.4 298 438.9 294.4 442.6 292.2C446.4 290.1 450.2 288.6 452.9 287.7C455.6 286.9 457 286.9 459 287.1C461.1 287.4 462.8 288 465.2 289.2C467.6 290.4 470.3 292.6 473.4 294.3C476.5 296 479.9 298 483.6 299.4C487.4 300.8 491.8 301.8 495.9 302.5C500 303.2 504.1 303.1 508.2 303.5C512.3 303.9 516.4 304.1 520.5 304.9C524.6 305.8 528.7 307.3 532.8 308.6C536.9 309.9 541.4 311.8 545.1 312.7C548.9 313.7 552 314.4 555.4 314.4C558.8 314.3 561.9 312.8 565.6 312.3C569.4 311.9 573.8 311.7 577.9 311.7C582 311.7 586.1 311.8 590.2 312.3C594.3 312.8 598.4 313.8 602.5 314.8C606.6 315.8 611.1 317.7 614.8 318.5C618.6 319.3 621.7 319.5 625.1 319.5C628.5 319.5 631.9 318.8 635.3 318.5C638.7 318.2 642.3 317.6 645.6 317.9C648.9 318.1 652.4 318.7 655 319.9C657.6 321.1 659.3 323.2 661.1 325C663 326.9 664.7 328.8 666.3 331.2C667.8 333.6 669.5 337.3 670.4 339.4C671.2 341.4 671.2 342.8 671.4 343.5L671.4 346 L97 346Z" fill="#66b645" stroke="#000" stroke-opacity=".32" stroke-width=".9"/>
<path d="M691.9 343.5C692.1 342.8 692.2 341.4 692.9 339.4C693.6 337.3 694.5 334.3 696 331.2C697.5 328.1 699.8 323.8 702.1 320.9C704.5 318 707.3 315.5 710.3 313.8C713.4 312 717.2 310.8 720.6 310.3C724 309.8 727.4 309.9 730.8 310.7C734.3 311.4 738 313.1 741.1 314.8C744.2 316.5 746.6 318.5 749.3 320.9C752 323.3 754.8 326.1 757.5 329.1C760.2 332.2 764 337 765.7 339.4C767.4 341.8 767.4 342.8 767.7 343.5L767.7 346 L691.9 346Z" fill="#66b645" stroke="#000" stroke-opacity=".32" stroke-width=".9"/>
<path d="M857.9 343.5C858.8 342.8 861 340.9 863.1 339.4C865.1 337.8 867.3 335.6 870.2 334.3C873.1 332.9 877.1 332.2 880.5 331.2C883.9 330.2 887.3 329.5 890.7 328.1C894.1 326.7 897.9 324.9 901 323C904 321.1 906.1 318.7 909.2 316.8C912.2 315 916 313.1 919.4 311.7C922.8 310.3 927.1 309.5 929.7 308.6C932.3 307.8 932.4 307.3 935 306.6C937.6 305.9 941.5 305.3 945.2 304.5C949 303.8 953.4 302.9 957.5 302.1C961.6 301.2 965.7 300.1 969.8 299.4C973.9 298.7 978 298.2 982.1 298C986.2 297.8 990.7 297.8 994.4 298.4C998.2 299 1001.3 300.1 1004.7 301.5C1008.1 302.8 1011.9 304.9 1014.9 306.6C1018 308.3 1020.4 310.5 1023.1 311.7C1025.9 312.9 1028.6 313.6 1031.3 313.8C1034.1 313.9 1036.5 313.4 1039.5 312.7C1042.6 312.1 1046.4 310.3 1049.8 309.7C1053.2 309 1057 308.5 1060 308.6C1063.1 308.8 1065.2 309.7 1068.2 310.7C1071.3 311.7 1075.4 314 1078.5 314.8C1081.6 315.5 1084 315.7 1086.7 315.2C1089.4 314.7 1091.8 313 1094.9 311.7C1098 310.4 1101.7 308.6 1105.1 307.6C1108.5 306.6 1112.3 305.7 1115.4 305.6C1118.5 305.4 1120.8 305.9 1123.6 306.6C1126.3 307.3 1129 308.6 1131.8 309.7C1134.5 310.8 1137.2 312.3 1140 313.1C1142.7 314 1145.6 314.7 1148.2 314.8C1150.7 314.9 1153.3 314.6 1155.4 313.8C1157.4 312.9 1158.3 311.5 1160.5 309.7C1162.7 307.8 1165.9 304.9 1168.7 302.5C1171.4 300.1 1174.1 297.7 1176.9 295.3C1179.6 292.9 1182.3 290.2 1185.1 288.1C1187.8 286.1 1190.5 284.3 1193.3 283C1196 281.7 1198.9 281 1201.5 280.4C1204 279.7 1206.4 279.2 1208.6 278.9C1210.9 278.7 1213.9 278.9 1215 278.9L1215 346 L857.9 346Z" fill="#66b645" stroke="#000" stroke-opacity=".32" stroke-width=".9"/>
<path d="M97 316C98 316 100.4 316.1 102.8 315.8C105.2 315.5 108.6 314.4 111.4 314.4C114.2 314.4 116.9 314.9 119.6 315.8C122.3 316.7 125.1 318.2 127.8 319.9C130.5 321.6 133.3 323.8 136 326.1C138.7 328.3 141.6 331 144.2 333.2C146.8 335.5 149.7 337.7 151.4 339.4C153.1 341.1 153.9 342.8 154.4 343.5L154.4 346 L97 346Z" fill="#fdd017" stroke="#000" stroke-opacity=".32" stroke-width=".9"/>
<path d="M169.2 343.5C169.5 342.8 169.9 341.4 170.8 339.4C171.8 337.3 173.2 334.3 174.9 331.2C176.6 328.1 178.7 324.2 181.1 320.9C183.5 317.7 186.2 314.4 189.3 311.7C192.4 309 196.1 306.1 199.5 304.5C203 302.9 206.4 302.2 209.8 302.1C213.2 301.9 216.6 302.4 220 303.5C223.5 304.6 227.2 306.6 230.3 308.6C233.4 310.7 235.8 313.6 238.5 315.8C241.2 318 244 320.6 246.7 322C249.4 323.3 252.1 324.2 254.9 324C257.6 323.8 260.3 321.7 263.1 320.9C265.8 320.2 268.5 319.3 271.3 319.3C274 319.3 276.7 319.8 279.5 320.9C282.2 322.1 284.9 324.5 287.7 326.1C290.4 327.6 293.5 329.3 295.9 330.2C298.3 331 300 331.5 302 331.2C304.1 330.8 305.8 329.8 308.2 328.1C310.6 326.4 313.6 323.2 316.4 320.9C319.1 318.7 321.8 316.3 324.6 314.8C327.3 313.3 330 312.2 332.8 311.7C335.5 311.2 338.2 311.2 341 311.7C343.7 312.2 346.4 313.3 349.2 314.8C351.9 316.3 354.6 318.9 357.4 320.9C360.1 323 362.6 325.3 365.6 327.1C368.5 328.9 372.1 330.5 375 331.6C377.9 332.7 380.5 333.2 383.2 333.6C385.9 334.1 388.3 334.5 391.4 334.3C394.5 334 397.9 333.2 401.6 332.2C405.4 331.2 409.8 329.6 413.9 328.1C418 326.6 422.1 324.9 426.2 323C430.3 321.1 434.4 318.9 438.5 316.8C442.6 314.8 447.1 312.1 450.8 310.7C454.6 309.3 458 308.8 461.1 308.6C464.2 308.5 466.2 308.8 469.3 309.7C472.4 310.5 475.8 312.5 479.5 313.8C483.3 315 487.4 316.5 491.8 317.2C496.3 318 501.7 318.2 506.2 318.5C510.6 318.8 514.7 318.3 518.5 318.9C522.2 319.5 525.3 320.6 528.7 322C532.1 323.3 535.9 325.7 539 327.1C542.1 328.5 544.4 329.6 547.2 330.2C549.9 330.7 552.6 330.7 555.4 330.2C558.1 329.6 560.8 328.1 563.6 327.1C566.3 326.1 568.7 324.9 571.8 324C574.9 323.2 578.6 322.3 582 322C585.4 321.6 588.9 321.4 592.3 322C595.7 322.5 599.5 323.8 602.5 325C605.6 326.2 608 327.6 610.7 329.1C613.5 330.7 616.7 332.6 618.9 334.3C621.1 336 622.8 337.8 624 339.4C625.3 340.9 626.3 342.8 626.7 343.5L626.7 346 L169.2 346Z" fill="#fdd017" stroke="#000" stroke-opacity=".32" stroke-width=".9"/>
<path d="M707.3 343.5C707.5 342.8 708 340.9 708.7 339.4C709.4 337.8 709.9 335.8 711.4 334.3C712.8 332.7 715.1 331.1 717.5 330.2C719.9 329.2 722.8 328.5 725.7 328.5C728.6 328.5 732.4 329.2 734.9 330.2C737.5 331.1 739.6 332.7 741.1 334.3C742.6 335.8 743.4 337.8 744.2 339.4C744.9 340.9 745.4 342.8 745.6 343.5L745.6 346 L707.3 346Z" fill="#fdd017" stroke="#000" stroke-opacity=".32" stroke-width=".9"/>
<path d="M907.5 343.5C907.8 342.8 908.4 341.1 909.2 339.4C910 337.7 910.7 335.3 912.2 333.2C913.8 331.2 916.2 328.7 918.4 327.1C920.6 325.5 922.8 324.6 925.6 323.6C928.3 322.6 931.4 322 935 321.3C938.6 320.7 943.2 320.4 947.3 319.9C951.4 319.4 955.2 319.1 959.6 318.5C964 317.9 969.2 317 973.9 316.4C978.7 315.9 983.9 315.3 988.3 315.2C992.7 315.1 996.8 315.2 1000.6 315.8C1004.4 316.4 1007.8 317.5 1010.8 318.9C1013.9 320.3 1016.3 322.5 1019 324C1021.8 325.5 1024.5 327.3 1027.2 328.1C1030 329 1032.7 329.5 1035.4 329.1C1038.2 328.8 1040.9 327.1 1043.6 326.1C1046.4 325 1049.1 323.6 1051.8 323C1054.6 322.4 1057.3 322.2 1060 322.6C1062.8 322.9 1065.5 323.9 1068.2 325C1071 326.1 1073.7 328.1 1076.4 329.1C1079.2 330.2 1081.9 331.2 1084.6 331.2C1087.4 331.2 1090.1 330.3 1092.8 329.1C1095.6 327.9 1098 325.7 1101 324C1104.1 322.4 1108.2 320.2 1111.3 319.3C1114.4 318.4 1116.7 318.2 1119.5 318.5C1122.2 318.8 1124.9 319.7 1127.7 320.9C1130.4 322.2 1133.1 324.4 1135.9 326.1C1138.6 327.8 1141.5 329.8 1144.1 331.2C1146.6 332.6 1149 334.1 1151.3 334.3C1153.5 334.4 1155.2 333.6 1157.4 332.2C1159.6 330.8 1162 328.3 1164.6 326.1C1167.1 323.8 1170 321.2 1172.8 318.9C1175.5 316.6 1178.2 314.2 1181 312.3C1183.7 310.4 1186.1 308.9 1189.2 307.6C1192.2 306.3 1196.2 305.2 1199.4 304.5C1202.7 303.9 1206 303.7 1208.6 303.5C1211.2 303.3 1213.9 303.5 1215 303.5L1215 346 L907.5 346Z" fill="#fdd017" stroke="#000" stroke-opacity=".32" stroke-width=".9"/>
<path d="M97 330.6C98 330.5 100.4 330.6 102.8 330.2C105.2 329.8 108.6 328.4 111.4 328.1C114.2 327.9 116.9 328 119.6 328.7C122.3 329.4 125.4 330.9 127.8 332.2C130.2 333.5 132.4 335.1 133.9 336.3C135.5 337.5 136.1 338.2 137 339.4C138 340.6 139.2 342.8 139.7 343.5L139.7 346 L97 346Z" fill="#eb5a23" stroke="#000" stroke-opacity=".32" stroke-width=".9"/>
<path d="M179.5 343.5C179.7 342.8 180.1 341.3 181.1 339.4C182 337.5 183.5 334.8 185.2 332.2C186.9 329.6 188.9 326.6 191.3 324C193.7 321.4 196.5 318.8 199.5 316.8C202.6 314.9 206.4 312.8 209.8 312.3C213.2 311.8 217 312.7 220 313.8C223.1 314.9 225.5 316.8 228.2 318.9C231 320.9 234 323.7 236.4 326.1C238.8 328.5 240.9 331 242.6 333.2C244.3 335.5 245.7 337.7 246.7 339.4C247.7 341.1 248.4 342.8 248.7 343.5L248.7 346 L179.5 346Z" fill="#eb5a23" stroke="#000" stroke-opacity=".32" stroke-width=".9"/>
<path d="M261.4 343.5C261.8 342.8 262.5 340.9 263.5 339.4C264.4 337.8 265.5 335.5 267.2 334.3C268.8 333 271.3 331.8 273.3 331.8C275.4 331.8 277.6 333 279.5 334.3C281.4 335.5 283.4 337.8 284.6 339.4C285.8 340.9 286.3 342.8 286.7 343.5L286.7 346 L261.4 346Z" fill="#eb5a23" stroke="#000" stroke-opacity=".32" stroke-width=".9"/>
<path d="M319.5 343.5C319.8 342.8 320.5 341.3 321.5 339.4C322.5 337.5 323.7 334.3 325.6 332.2C327.5 330.2 330.2 328.2 332.8 327.1C335.3 326 338.2 325.3 341 325.4C343.7 325.6 346.6 326.8 349.2 328.1C351.7 329.4 354.5 331.4 356.3 333.2C358.2 335.1 359.4 337.7 360.4 339.4C361.5 341.1 362.2 342.8 362.5 343.5L362.5 346 L319.5 346Z" fill="#eb5a23" stroke="#000" stroke-opacity=".32" stroke-width=".9"/>
<path d="M431.4 343.5C431.9 342.8 432.9 341.1 434.4 339.4C436 337.7 437.9 335.3 440.6 333.2C443.3 331.2 447.4 328.6 450.8 327.1C454.3 325.5 457.7 324.4 461.1 324C464.5 323.7 467.6 324.4 471.3 325C475.1 325.7 479.5 327.2 483.6 328.1C487.7 329.1 491.8 330.4 495.9 330.8C500 331.1 504.5 330.3 508.2 330.2C512 330.1 515.4 329.7 518.5 330.2C521.6 330.6 524.5 331.8 526.7 332.8C528.9 333.9 530.6 335.2 531.8 336.3C533 337.4 533.3 338.2 533.9 339.4C534.4 340.6 534.7 342.8 534.9 343.5L534.9 346 L431.4 346Z" fill="#eb5a23" stroke="#000" stroke-opacity=".32" stroke-width=".9"/>
<path d="M573.4 343.5C573.7 342.8 574.1 340.9 574.9 339.4C575.6 337.8 576.4 335.7 577.9 334.3C579.5 332.8 581.7 331.6 584.1 330.8C586.5 329.9 589.5 329.1 592.3 329.1C595 329.2 598.1 330.2 600.5 331.2C602.9 332.2 605.1 333.9 606.6 335.3C608.2 336.7 608.9 338 609.7 339.4C610.5 340.8 610.9 342.8 611.1 343.5L611.1 346 L573.4 346Z" fill="#eb5a23" stroke="#000" stroke-opacity=".32" stroke-width=".9"/>
<path d="M923.5 343.5C924 342.8 925.4 340.8 926.6 339.4C927.8 338 929.3 336.2 930.7 335.3C932.1 334.3 932.6 333.8 935 333.6C937.4 333.5 941.8 334.2 945.2 334.3C948.7 334.4 951.7 334.4 955.5 334.3C959.3 334.1 963.7 333.8 967.8 333.2C971.9 332.7 976.3 331.5 980.1 330.8C983.9 330 986.9 329.1 990.3 328.7C993.8 328.4 997.5 328.4 1000.6 328.7C1003.7 329.1 1006.4 329.8 1008.8 330.8C1011.2 331.8 1013.2 333.4 1014.9 334.9C1016.6 336.3 1018 338 1019 339.4C1020.1 340.8 1020.7 342.8 1021.1 343.5L1021.1 346 L923.5 346Z" fill="#eb5a23" stroke="#000" stroke-opacity=".32" stroke-width=".9"/>
<path d="M1050.2 343.5C1050.5 342.8 1051.3 340.6 1052.2 339.4C1053.2 338.2 1054.8 336.9 1055.9 336.3C1057.1 335.7 1058 335.5 1059 335.7C1060 335.9 1061.2 336.7 1062.1 337.3C1063 338 1063.9 338.4 1064.5 339.4C1065.2 340.4 1065.9 342.8 1066.2 343.5L1066.2 346 L1050.2 346Z" fill="#eb5a23" stroke="#000" stroke-opacity=".32" stroke-width=".9"/>
<path d="M1100.6 343.5C1101 342.8 1101.7 340.9 1102.7 339.4C1103.6 337.8 1104.4 335.8 1106.2 334.3C1107.9 332.7 1111.1 331 1113.3 330.2C1115.6 329.3 1117.4 329 1119.5 329.1C1121.5 329.2 1123.8 329.9 1125.6 330.8C1127.5 331.6 1129.4 332.8 1130.8 334.3C1132.1 335.7 1133 337.8 1133.8 339.4C1134.6 340.9 1135.2 342.8 1135.5 343.5L1135.5 346 L1100.6 346Z" fill="#eb5a23" stroke="#000" stroke-opacity=".32" stroke-width=".9"/>
<path d="M1169.9 343.5C1170.1 342.8 1170.6 341.1 1171.3 339.4C1172.1 337.7 1172.9 335.4 1174.4 333.2C1176 331.1 1178.1 328.4 1180.6 326.5C1183 324.5 1186 322.9 1189.2 321.6C1192.3 320.2 1196.2 319 1199.4 318.3C1202.7 317.5 1206 317.2 1208.6 317C1211.2 316.8 1213.9 317 1215 317L1215 346 L1169.9 346Z" fill="#eb5a23" stroke="#000" stroke-opacity=".32" stroke-width=".9"/>
<path d="M187.7 343.5C187.9 342.8 188.5 341.1 189.3 339.4C190.1 337.7 191 335.5 192.4 333.2C193.7 331 195.4 328 197.5 326.1C199.5 324.1 202.3 322.5 204.7 321.6C207.1 320.6 209.3 320.3 211.8 320.5C214.4 320.8 217.6 321.7 220 323C222.4 324.3 224.3 326.2 226.2 328.1C228.1 330 229.9 332.4 231.3 334.3C232.7 336.1 233.6 337.8 234.4 339.4C235.2 340.9 235.8 342.8 236 343.5L236 346 L187.7 346Z" fill="#e84352" stroke="#000" stroke-opacity=".32" stroke-width=".9"/>
<path d="M1184 343.5C1184.3 342.8 1184.7 340.7 1185.5 339.4C1186.2 338.1 1187 336.9 1188.6 335.7C1190.1 334.5 1192.6 332.9 1194.7 332C1196.9 331.1 1199.1 330.7 1201.5 330.4C1203.8 330 1206.4 330 1208.6 330C1210.9 329.9 1213.9 330 1215 330L1215 346 L1184 346Z" fill="#e84352" stroke="#000" stroke-opacity=".32" stroke-width=".9"/>
<path d="M195 343.5C195.3 342.8 195.7 340.9 196.5 339.4C197.2 337.8 198.2 335.7 199.5 334.3C200.9 332.8 203 331.5 204.7 330.8C206.4 330 207.9 329.7 209.8 329.8C211.7 329.8 214.1 330.3 215.9 331.2C217.8 332.1 219.7 333.9 221.1 335.3C222.4 336.7 223.4 338 224.1 339.4C224.9 340.8 225.2 342.8 225.4 343.5L225.4 346 L195 346Z" fill="#fbe9ea" stroke="#000" stroke-opacity=".32" stroke-width=".9"/>
</g>
<path d="M101.1 340V77.1" fill="none" stroke="#363636" stroke-width="2.4"/><path d="M99.9 77.1H1211.1" fill="none" stroke="#363636" stroke-width="3"/><path d="M1210 77V340" fill="none" stroke="#363636" stroke-width="2.3"/>
<line x1="99.9" y1="339.7" x2="1211.1" y2="339.7" stroke="#4a4a4a" stroke-width="1.5"/>
<rect x="1274.5" y="75.1" width="13.6" height="26.7" fill="#fbe9ea" stroke="#000" stroke-opacity=".3" stroke-width=".6"/>
<rect x="1274.5" y="101.8" width="13.6" height="26.7" fill="#e84352" stroke="#000" stroke-opacity=".3" stroke-width=".6"/>
<rect x="1274.5" y="128.5" width="13.6" height="26.7" fill="#eb5a23" stroke="#000" stroke-opacity=".3" stroke-width=".6"/>
<rect x="1274.5" y="155.2" width="13.6" height="26.7" fill="#fdd017" stroke="#000" stroke-opacity=".3" stroke-width=".6"/>
<rect x="1274.5" y="181.9" width="13.6" height="26.7" fill="#66b645" stroke="#000" stroke-opacity=".3" stroke-width=".6"/>
<rect x="1274.5" y="208.6" width="13.6" height="26.7" fill="#33ad4f" stroke="#000" stroke-opacity=".3" stroke-width=".6"/>
<rect x="1274.5" y="235.3" width="13.6" height="26.7" fill="#5fbdac" stroke="#000" stroke-opacity=".3" stroke-width=".6"/>
<rect x="1274.5" y="262" width="13.6" height="26.7" fill="#45a2d9" stroke="#000" stroke-opacity=".3" stroke-width=".6"/>
<rect x="1274.5" y="288.7" width="13.6" height="26.7" fill="#254a9e" stroke="#000" stroke-opacity=".3" stroke-width=".6"/>
<rect x="1274.5" y="315.4" width="13.6" height="26.7" fill="#e4e4e4" stroke="#000" stroke-opacity=".3" stroke-width=".6"/>
<text x="1296.2" y="82.9" font-size="14">1150</text>
<text x="1296.2" y="109.2" font-size="14">1050</text>
<text x="1296.2" y="135.5" font-size="14">950</text>
<text x="1296.2" y="161.8" font-size="14">850</text>
<text x="1296.2" y="188.1" font-size="14">750</text>
<text x="1296.2" y="214.3" font-size="14">650</text>
<text x="1296.2" y="240.6" font-size="14">550</text>
<text x="1296.2" y="266.9" font-size="14">450</text>
<text x="1296.2" y="293.2" font-size="14">350</text>
<text x="1296.2" y="319.5" font-size="14">250</text>
<text x="1296.2" y="345.8" font-size="14">150</text>
<line x1="101.1" y1="340" x2="101.1" y2="348.6" stroke="#333" stroke-width="2.2"/>
<text x="93" y="368" font-size="20.6" text-anchor="middle">0</text>
<line x1="214.1" y1="340" x2="214.1" y2="348.6" stroke="#333" stroke-width="2.2"/>
<text x="213" y="368" font-size="20.6" text-anchor="middle">50</text>
<line x1="329.1" y1="340" x2="329.1" y2="348.6" stroke="#333" stroke-width="2.2"/>
<text x="333.8" y="368" font-size="20.6" text-anchor="middle">100</text>
<line x1="444.2" y1="340" x2="444.2" y2="348.6" stroke="#333" stroke-width="2.2"/>
<text x="448" y="368" font-size="20.6" text-anchor="middle">150</text>
<line x1="560.3" y1="340" x2="560.3" y2="348.6" stroke="#333" stroke-width="2.2"/>
<text x="561.2" y="368" font-size="20.6" text-anchor="middle">200</text>
<line x1="675.2" y1="340" x2="675.2" y2="348.6" stroke="#333" stroke-width="2.2"/>
<text x="675.6" y="368" font-size="20.6" text-anchor="middle">250</text>
<line x1="790.3" y1="340" x2="790.3" y2="348.6" stroke="#333" stroke-width="2.2"/>
<text x="790.3" y="368" font-size="20.6" text-anchor="middle">300</text>
<line x1="904.5" y1="340" x2="904.5" y2="348.6" stroke="#333" stroke-width="2.2"/>
<text x="904.7" y="368" font-size="20.6" text-anchor="middle">350</text>
<line x1="1021.6" y1="340" x2="1021.6" y2="348.6" stroke="#333" stroke-width="2.2"/>
<text x="1018.3" y="368" font-size="20.6" text-anchor="middle">400</text>
<line x1="1137.3" y1="340" x2="1137.3" y2="348.6" stroke="#333" stroke-width="2.2"/>
<text x="1135.4" y="368" font-size="20.6" text-anchor="middle">450</text>
<line x1="91" y1="149.7" x2="100.5" y2="149.7" stroke="#333" stroke-width="2.2"/>
<text x="88.6" y="157" font-size="20.6" text-anchor="end">–10</text>
<line x1="91" y1="224.5" x2="100.5" y2="224.5" stroke="#333" stroke-width="2.2"/>
<text x="88.6" y="231.8" font-size="20.6" text-anchor="end">–20</text>
<line x1="91" y1="298.1" x2="100.5" y2="298.1" stroke="#333" stroke-width="2.2"/>
<text x="88.6" y="305.4" font-size="20.6" text-anchor="end">–30</text>
<text transform="translate(45.2 237.4) rotate(-90)" font-size="21.2" text-anchor="middle">Depth (m)</text>
<text x="629.8" y="396.8" font-size="21.2" text-anchor="middle">Distance (m)</text>
<path d="M95.7 482.5V665.4H1210V482.5" fill="none" stroke="#555" stroke-width="1.5"/>
<line x1="78.5" y1="510.6" x2="95.7" y2="510.6" stroke="#707070" stroke-width="1.6"/>
<line x1="1210" y1="510.6" x2="1227" y2="510.6" stroke="#707070" stroke-width="1.6"/>
<text x="74.4" y="517.3" font-size="21" text-anchor="end" stroke-width=".4">500</text>
<line x1="78.5" y1="556.8" x2="95.7" y2="556.8" stroke="#707070" stroke-width="1.6"/>
<line x1="1210" y1="556.8" x2="1227" y2="556.8" stroke="#707070" stroke-width="1.6"/>
<text x="74.4" y="563.5" font-size="21" text-anchor="end" stroke-width=".4">400</text>
<line x1="78.5" y1="602.8" x2="95.7" y2="602.8" stroke="#707070" stroke-width="1.6"/>
<line x1="1210" y1="602.8" x2="1227" y2="602.8" stroke="#707070" stroke-width="1.6"/>
<text x="74.4" y="609.5" font-size="21" text-anchor="end" stroke-width=".4">300</text>
<line x1="78.5" y1="648.8" x2="95.7" y2="648.8" stroke="#707070" stroke-width="1.6"/>
<line x1="1210" y1="648.8" x2="1227" y2="648.8" stroke="#707070" stroke-width="1.6"/>
<text x="74.4" y="655.5" font-size="21" text-anchor="end" stroke-width=".4">200</text>
<line x1="95.8" y1="665" x2="95.8" y2="672.6" stroke="#444" stroke-width="1.9"/>
<text x="93.4" y="691.4" font-size="19.6" text-anchor="middle">0</text>
<line x1="214.1" y1="665" x2="214.1" y2="672.6" stroke="#444" stroke-width="1.9"/>
<text x="213" y="691.4" font-size="19.6" text-anchor="middle">50</text>
<line x1="329.1" y1="665" x2="329.1" y2="672.6" stroke="#444" stroke-width="1.9"/>
<text x="333.8" y="691.4" font-size="19.6" text-anchor="middle">100</text>
<line x1="444.2" y1="665" x2="444.2" y2="672.6" stroke="#444" stroke-width="1.9"/>
<text x="448" y="691.4" font-size="19.6" text-anchor="middle">150</text>
<line x1="560.3" y1="665" x2="560.3" y2="672.6" stroke="#444" stroke-width="1.9"/>
<text x="561.2" y="691.4" font-size="19.6" text-anchor="middle">200</text>
<line x1="675.2" y1="665" x2="675.2" y2="672.6" stroke="#444" stroke-width="1.9"/>
<text x="675.6" y="691.4" font-size="19.6" text-anchor="middle">250</text>
<line x1="790.3" y1="665" x2="790.3" y2="672.6" stroke="#444" stroke-width="1.9"/>
<text x="790.3" y="691.4" font-size="19.6" text-anchor="middle">300</text>
<line x1="904.5" y1="665" x2="904.5" y2="672.6" stroke="#444" stroke-width="1.9"/>
<text x="904.7" y="691.4" font-size="19.6" text-anchor="middle">350</text>
<line x1="1021.6" y1="665" x2="1021.6" y2="672.6" stroke="#444" stroke-width="1.9"/>
<text x="1018.3" y="691.4" font-size="19.6" text-anchor="middle">400</text>
<line x1="1137.3" y1="665" x2="1137.3" y2="672.6" stroke="#444" stroke-width="1.9"/>
<text x="1135.4" y="691.4" font-size="19.6" text-anchor="middle">450</text>
<text x="629.8" y="721.6" font-size="21.2" text-anchor="middle">Distance (m)</text>
<text x="81.2" y="714.2" font-size="20">SE</text>
<text x="1208.6" y="714.2" font-size="20.6">NW</text>
<text font-size="20.8"><tspan x="44.4" y="474.4">V</tspan><tspan x="58.3" y="481.7" font-size="11.8" fill="#707070" stroke="#707070" stroke-width=".4">S30</tspan><tspan x="80.4" y="474.4" font-size="21.1"> (m/s)</tspan></text>
<path d="M97 599.8C98.8 600.1 104.1 601.9 108.1 601.8C112 601.6 116.7 599.7 120.6 599C124.5 598.2 128 597.7 131.7 597.3C135.4 596.9 139.4 597.2 142.9 596.5C146.3 595.7 149.6 594.4 152.6 592.9C155.6 591.3 157.9 589.5 160.9 587.3C164 585.1 167.2 582.1 170.7 579.5C174.2 577 178.1 573.9 181.8 572C185.5 570 189.2 568.7 192.9 567.8C196.6 566.9 200.6 566.4 204.1 566.4C207.5 566.4 210.5 567 213.8 567.8C217 568.7 220.3 570 223.5 571.4C226.8 572.9 230 575.1 233.3 576.7C236.5 578.3 239.5 580 243 581.2C246.5 582.4 250.4 583.3 254.1 584C257.8 584.6 261.5 584.7 265.3 585.3C269 586 272.7 586.9 276.4 587.8C280.1 588.8 283.8 590.4 287.5 591.2C291.2 592 294.9 592.7 298.6 592.9C302.3 593 306.1 592.8 309.8 592.3C313.5 591.8 317.2 590.9 320.9 590.1C324.6 589.2 328.3 587.9 332 587.3C335.7 586.7 339.4 586.3 343.1 586.5C346.9 586.6 350.6 587.4 354.3 588.1C358 588.8 361.2 589.9 365.4 590.6C369.6 591.3 374.7 591.9 379.3 592.3C383.9 592.7 388.6 592.8 393.2 592.9C397.9 592.9 402.5 592.8 407.1 592.6C411.8 592.3 416.9 592.2 421 591.5C425.2 590.7 428.7 589.6 432.2 588.1C435.6 586.6 438.7 584 441.9 582.6C445.1 581.1 448.4 580 451.6 579.5C454.9 579 458.3 579.3 461.4 579.8C464.4 580.3 466.9 581.3 470 582.6C473.1 583.8 476 585.9 479.7 587.3C483.4 588.7 487.9 590.3 492.3 591.2C496.7 592.1 501.5 592.3 506.2 592.6C510.8 592.9 515.4 592.5 520.1 592.9C524.7 593.2 529.3 594.1 534 594.8C538.6 595.5 543.3 596.5 547.9 597C552.5 597.5 557.6 598 561.8 597.9C566 597.8 569.2 597 572.9 596.5C576.6 595.9 579.9 594.8 584.1 594.5C588.2 594.2 593.3 594.5 598 594.5C602.6 594.6 607.2 594.9 611.9 594.8C616.5 594.7 621.1 594.1 625.8 593.7C630.4 593.3 635.1 592.6 639.7 592.3C644.3 592 649 592.1 653.6 592C658.2 591.9 662.9 591.7 667.5 591.7C672.1 591.7 677.2 591.7 681.4 592C685.6 592.3 688.4 592.9 692.5 593.4C696.7 593.9 701.8 594.4 706.5 594.8C711.1 595.2 715.7 595.4 720.4 595.6C725 595.9 729.6 595.9 734.3 596.2C738.9 596.5 743.5 596.8 748.2 597.3C752.8 597.8 757.5 598.4 762.1 599C766.7 599.5 771.4 600.2 776 600.6C780.6 601.1 785.3 601.4 789.9 601.8C794.5 602.1 799.2 602.5 803.8 602.9C808.5 603.2 813.1 603.9 817.7 604C822.4 604 827.5 603.5 831.6 603.1C835.8 602.8 839.7 602.3 842.8 602C845.8 601.8 846.5 601.5 850 601.5C853.5 601.4 859.3 601.8 863.9 601.8C868.5 601.8 873.2 601.7 877.8 601.5C882.5 601.3 887.1 600.9 891.7 600.6C896.4 600.4 901 600.1 905.6 599.8C910.3 599.5 914.9 599.3 919.5 599C924.2 598.7 929.7 598.6 933.5 598.1C937.2 597.7 939 597.3 941.8 596.5C944.6 595.7 946.9 594.3 950.1 593.4C953.4 592.5 957.6 591.4 961.3 590.9C965 590.4 968.7 590.6 972.4 590.6C976.1 590.7 979.8 591 983.5 591.2C987.2 591.4 990.9 591.5 994.7 591.7C998.4 592 1002.1 592.4 1005.8 592.9C1009.5 593.3 1013.2 593.9 1016.9 594.2C1020.6 594.6 1023.9 594.8 1028 594.8C1032.2 594.8 1037.8 594.4 1041.9 594.2C1046.1 594.1 1049.4 593.6 1053.1 593.7C1056.8 593.7 1060.5 594.1 1064.2 594.5C1067.9 595 1071.9 596 1075.3 596.5C1078.8 596.9 1081.8 597.3 1085.1 597.3C1088.3 597.4 1091.3 597.1 1094.8 596.7C1098.3 596.4 1102.2 595.8 1105.9 595.4C1109.6 594.9 1113.3 594.4 1117.1 594.2C1120.8 594.1 1124.5 594.1 1128.2 594.2C1131.9 594.4 1135.6 594.9 1139.3 595.1C1143 595.3 1146.7 595.6 1150.4 595.4C1154.1 595.1 1157.9 594.5 1161.6 593.7C1165.3 592.9 1169 591.8 1172.7 590.6C1176.4 589.5 1180.1 587.7 1183.8 586.7C1187.5 585.8 1191 585.3 1194.9 584.8C1198.9 584.3 1205.4 584.1 1207.5 584" fill="none" stroke="#1c1c1c" stroke-width="3.15" stroke-dasharray="5.7 4.3"/>
<text class="pl" id="la"><tspan x="27.7" y="62.8" font-size="42.4">(</tspan><tspan x="42.4" y="66.8" font-size="45.4">a</tspan><tspan x="64.5" y="62.8" font-size="42.4">)</tspan></text>
<text class="pl" id="lb"><tspan x="28" y="432.3" font-size="41.6">(</tspan><tspan x="42" y="437" font-size="49">b</tspan><tspan x="70.1" y="432.3" font-size="41.6">)</tspan></text>
<text x="1276.8" y="33" font-size="21" text-anchor="middle">Shear velocity</text>
<text x="1282.5" y="58" font-size="20.6" text-anchor="middle">(m/s)</text>
</g>
</svg>
</body></html>
